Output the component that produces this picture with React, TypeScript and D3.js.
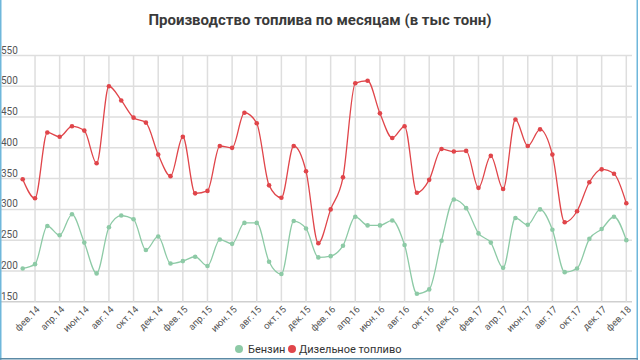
import React from "react";
import * as d3 from "d3";

const months = ["янв", "фев", "мар", "апр", "май", "июн", "июл", "авг", "сен", "окт", "ноя", "дек"];
const startYear = 14;
const petrol = [
  204, 211, 273, 258, 292, 246, 196, 271, 290, 284, 234, 256,
  212, 216, 223, 208, 251, 244, 278, 278, 215, 195, 281, 269,
  222, 224, 241, 288, 274, 274, 282, 242, 163, 170, 249, 316,
  302, 261, 246, 205, 286, 275, 300, 267, 198, 204, 252, 268,
  288, 250,
];
const diesel = [
  349, 318, 425, 418, 435, 428, 375, 500, 477, 449, 441, 389,
  354, 418, 326, 330, 403, 400, 457, 440, 339, 319, 403, 362,
  245, 300, 352, 505, 509, 456, 416, 435, 327, 348, 398, 394,
  395, 335, 387, 333, 446, 403, 430, 389, 279, 297, 344, 365,
  358, 310,
];
const yTicks = [150, 200, 250, 300, 350, 400, 450, 500, 550];
const seriesNames = ["Бензин", "Дизельное топливо"];

const labels = petrol.map((_, i) => `${months[i % 12]}.${startYear + Math.floor(i / 12)}`);

const W = 640;
const H = 360;
const x = d3.scaleLinear().domain([0, petrol.length - 1]).range([22.7, 626.3]);
const y = d3.scaleLinear().domain([150, 550]).range([301.7, 55.5]);

const GREEN = "#8dcaa6";
const RED = "#e0454a";
const font = "Roboto, 'Noto Sans', sans-serif";

export default function App() {
  const line = d3
    .line<number>()
    .x((_, i) => x(i))
    .y((d) => y(d))
    .curve(d3.curveMonotoneX);
  const vIdx = labels.map((_, i) => i).filter((i) => i % 2 === 1);
  const series = [
    { data: petrol, color: GREEN, name: seriesNames[0] },
    { data: diesel, color: RED, name: seriesNames[1] },
  ];
  return (
    <svg
      width={W}
      height={H}
      style={{ position: "absolute", left: 0, top: 0, background: "#fff" }}
      fontFamily={font}
    >
      <text x={320} y={25} textAnchor="middle" fontSize={15} fontWeight="bold" fill="#3a3a3a">
        Производство топлива по месяцам (в тыс тонн)
      </text>
      {yTicks.map((t) => (
        <g key={t}>
          <line x1={0} x2={632} y1={y(t)} y2={y(t)} stroke={t === 150 ? "#cfcfcf" : "#dedede"} strokeWidth={1.5} />
          <text x={1} y={y(t) - 2} fontSize={10} fill="#555">
            {t}
          </text>
        </g>
      ))}
      {vIdx.map((i) => (
        <g key={i}>
          <line x1={x(i)} x2={x(i)} y1={y(550)} y2={y(150)} stroke="#dedede" strokeWidth={1.5} />
          <text
            transform={`translate(${x(i) + 3},${y(150) + 6}) rotate(-45)`}
            textAnchor="end"
            fontSize={9.5}
            fill="#555"
            dy="0.35em"
          >
            {labels[i]}
          </text>
        </g>
      ))}
      {series.map((s) => (
        <g key={s.name}>
          <path d={line(s.data) || ""} fill="none" stroke={s.color} strokeWidth={1.3} />
          {s.data.map((v, i) => (
            <circle key={i} cx={x(i)} cy={y(v)} r={2.3} fill={s.color} />
          ))}
        </g>
      ))}
      <circle cx={239} cy={349} r={4} fill={GREEN} />
      <text x={248} y={353} fontSize={11} fill="#333">
        {seriesNames[0]}
      </text>
      <circle cx={292} cy={349} r={4} fill={RED} />
      <text x={299} y={353} fontSize={11} fill="#333">
        {seriesNames[1]}
      </text>
      <rect x={0} y={0} width={1.5} height={H} fill="#6fb7db" />
      <rect x={636.5} y={0} width={1.5} height={H} fill="#6fb7db" />
      <rect x={0} y={358} width={638} height={1.5} fill="#5b8aa5" />
    </svg>
  );
}
